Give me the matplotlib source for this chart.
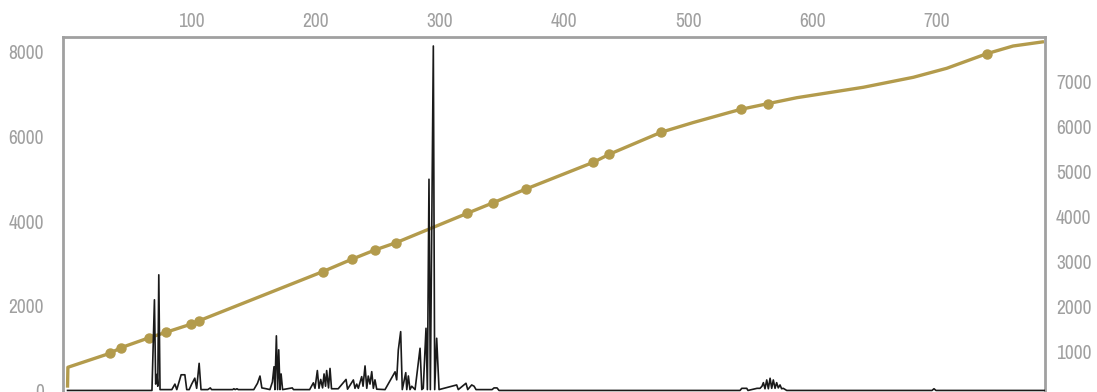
import matplotlib
matplotlib.use("Agg")
import matplotlib.pyplot as plt
from matplotlib import font_manager

# black series (left axis): day, value
day_black = [0, 68, 70, 71, 72, 72.7, 73.5, 74.5, 84, 86.5, 88, 91.5, 94.5, 96, 98,
             100, 102.5, 104, 106, 107.5, 113, 115, 116, 133, 134, 135, 136.5, 137.5,
             150, 153, 155, 156.5, 160, 163, 165, 166.3, 167, 168.2, 169.2, 170.1,
             171.1, 172, 173.2, 181, 182, 195, 198, 199.3, 201.2, 202.5, 203.9, 205.4,
             206.6, 207.8, 208.7, 210.2, 211.4, 212.6, 218, 224.3, 225.5, 230.2, 231.5,
             232.9, 234.2, 236.9, 238, 239.6, 241, 242.2, 243.6, 245, 246.3, 247.6, 249,
             255.7, 263.8, 265.1, 266.4, 268.3, 269.6, 271.2, 272.4, 273.2, 274.5, 275.8,
             277.2, 279.9, 283.9, 285.3, 286.5, 288.7, 289.8, 291.1, 292.2, 294.6, 295.7,
             297.3, 299.2, 313.4, 314.7, 320.9, 322.3, 325.5, 327.4, 329, 341.9, 343.5,
             345.9, 347.5, 541.6, 543, 547, 548, 555.3, 557.7, 559.3, 560.4, 561.7, 563.1,
             564.4, 565.8, 567.1, 568.4, 569.8, 571.1, 572.4, 573.8, 575.1, 576.4, 579.2,
             696.2, 697.8, 699.4, 787]
val_black = [0, 0, 2140, 150, 380, 100, 2730, 20, 20, 150, 20, 370, 370, 20, 20,
             150, 290, 50, 640, 20, 20, 60, 20, 20, 40, 20, 40, 20,
             20, 170, 340, 60, 40, 20, 200, 560, 20, 1290, 20, 960,
             20, 390, 20, 60, 20, 20, 180, 50, 470, 50, 260, 60,
             390, 100, 470, 60, 520, 40, 40, 260, 30, 248, 50,
             150, 50, 326, 100, 579, 50, 340, 150, 444, 50, 250, 30,
             20, 440, 250, 956, 1389, 20, 250, 420, 20, 342, 20,
             100, 20, 996, 20, 50, 1469, 20, 4987, 20, 8134, 20,
             1233, 20, 130, 20, 170, 20, 130, 100, 20, 20, 60,
             60, 0, 0, 50, 50, 0, 50, 50, 100, 184, 40, 248,
             40, 288, 50, 248, 50, 184, 60, 130, 40, 50, 0,
             0, 40, 0, 0]

# gold series (right axis): day, value; markers on a subset
day_gold = [0, 0.3, 34.2, 43.1, 65.9, 79.3, 99.2, 106.1, 205.5, 228.9, 247.6, 264.6,
            322.0, 342.9, 369.3, 423.5, 436.3, 478.0, 504.0, 533.5, 542.4, 563.9,
            587.3, 640.9, 681.2, 708.1, 740.3, 761.5, 786.4]
val_gold = [200, 653, 964, 1089, 1311, 1431, 1609, 1689, 2778, 3053, 3260, 3422,
            4076, 4311, 4616, 5209, 5387, 5876, 6093, 6320, 6387, 6511,
            6644, 6876, 7098, 7298, 7622, 7793, 7889]
day_marks = [34.2, 43.1, 65.9, 79.3, 99.2, 106.1, 205.5, 228.9, 247.6, 264.6,
             322.0, 342.9, 369.3, 423.5, 436.3, 478.0, 542.4, 563.9, 740.3]
val_marks = [964, 1089, 1311, 1431, 1609, 1689, 2778, 3053, 3260, 3422,
             4076, 4311, 4616, 5209, 5387, 5876, 6387, 6511, 7622]

x_ticks = [100, 200, 300, 400, 500, 600, 700]
left_ticks = [0, 2000, 4000, 6000, 8000]
right_ticks = [1000, 2000, 3000, 4000, 5000, 6000, 7000]

gold = '#b39b4c'
grey = '#a0a0a0'

# the reference uses a condensed upright face: try a narrow one first
def find_face(word):
    for f in font_manager.fontManager.ttflist:
        if word in f.name and f.style == 'normal' and f.weight in (400, 'normal', 'regular'):
            return f.fname
    return None

narrow = find_face('Narrow')
if narrow is None:
    for f in font_manager.fontManager.ttflist:
        if 'condensed' in str(f.stretch) and f.style == 'normal' and f.weight in (400, 'normal', 'regular'):
            narrow = f.fname
            break
if narrow:
    tick_font = font_manager.FontProperties(fname=narrow, size=14)
else:
    tick_font = font_manager.FontProperties(family='DejaVu Sans', size=10.5)

fig = plt.figure(figsize=(10.97, 3.92), dpi=100)
ax = fig.add_axes([0.0577, -0.005, 0.8949, 0.9114])
ax2 = ax.twinx()

ax2.plot(day_gold, val_gold, color=gold, lw=2.4, solid_capstyle='butt')
ax2.plot(day_marks, val_marks, 'o', color=gold, ms=6.5)
ax.plot(day_black, val_black, color='#1a1a1a', lw=1.2)

ax.set_zorder(ax2.get_zorder() + 1)
ax.patch.set_visible(False)

ax.set_xlim(-3.4, 787.2)
ax.set_ylim(-83, 8354)
ax2.set_ylim(60, 8000)

ax.xaxis.tick_top()
ax.set_xticks(x_ticks)
ax.set_yticks(left_ticks)
ax2.set_yticks(right_ticks)

ax.tick_params(axis='x', length=0, pad=4, labelcolor=grey)
ax.tick_params(axis='y', length=0, pad=14, labelcolor=grey)
ax2.tick_params(axis='y', length=0, pad=8, labelcolor=grey)
for lab in ax.get_xticklabels() + ax.get_yticklabels() + ax2.get_yticklabels():
    lab.set_fontproperties(tick_font)

for s in ['bottom', 'right']:
    ax.spines[s].set_visible(False)
for s in ['bottom', 'left', 'top']:
    ax2.spines[s].set_visible(False)
for s in ['left', 'top']:
    ax.spines[s].set_color(grey)
    ax.spines[s].set_linewidth(2)
ax2.spines['right'].set_color(grey)
ax2.spines['right'].set_linewidth(2)

fig.savefig('out.png', dpi=100)
